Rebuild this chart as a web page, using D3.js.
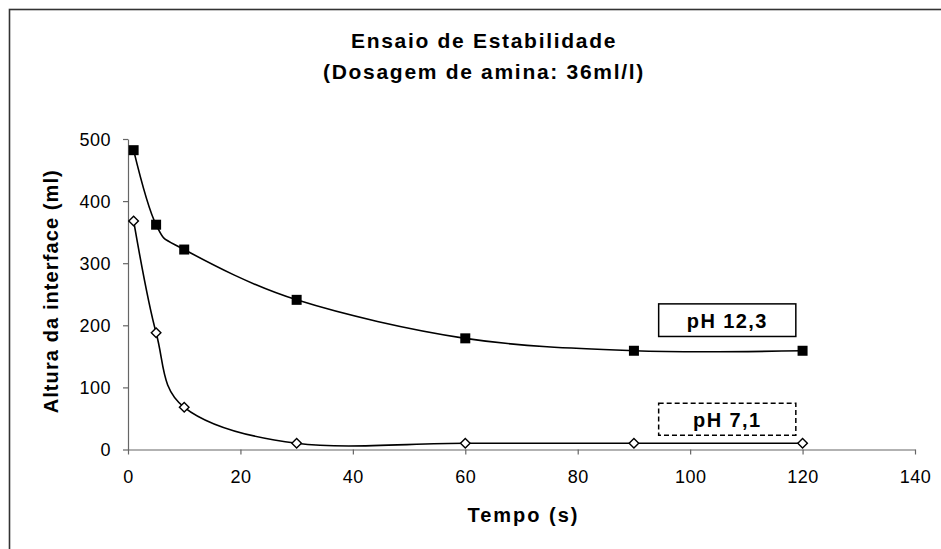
<!DOCTYPE html>
<html>
<head>
<meta charset="utf-8">
<script src="https://cdn.jsdelivr.net/npm/d3@7"></script>
<style>
  html, body { margin: 0; padding: 0; background: #fff; }
  svg { display: block; }
  text { font-family: "Liberation Sans", Arial, sans-serif; fill: #000; }
</style>
</head>
<body>
<svg id="chart" width="941" height="549"></svg>
<script>
// ---- data ----
const tempo = [1, 5, 10, 30, 60, 90, 120];
const ph123 = [482, 362, 322, 241, 179, 159, 159];
const ph71  = [368, 188, 68, 10, 10, 10, 10];
const xTicks = [0, 20, 40, 60, 80, 100, 120, 140];
const yTicks = [0, 100, 200, 300, 400, 500];
const titleLines = ["Ensaio de Estabilidade", "(Dosagem de amina: 36ml/l)"];
const xTitle = "Tempo (s)";
const yTitle = "Altura da interface (ml)";
const labels = ["pH 12,3", "pH 7,1"];

const svg = d3.select("#chart");

// outer chart-area border (extends past right and bottom edges)
svg.append("rect")
  .attr("x", 9.5).attr("y", 9.5)
  .attr("width", 950).attr("height", 560)
  .attr("fill", "#fff").attr("stroke", "#333").attr("stroke-width", 1.6);

const x = d3.scaleLinear().domain([0, 140]).range([128, 915]);
const y = d3.scaleLinear().domain([0, 500]).range([449.5, 139]);

// title
svg.append("g").selectAll("text").data(titleLines).enter().append("text")
  .attr("x", 484).attr("y", (d, i) => 48 + i * 31)
  .attr("text-anchor", "middle")
  .attr("font-size", 21).attr("font-weight", "bold")
  .attr("letter-spacing", 1.7)
  .text(d => d);

// axes
const axisColor = "#666";
const gx = svg.append("g").attr("transform", `translate(0,${y(0)})`)
  .call(d3.axisBottom(x).tickValues(xTicks).tickSize(5).tickPadding(16).tickSizeOuter(0));
const gy = svg.append("g").attr("transform", `translate(${x(0)},0)`)
  .call(d3.axisLeft(y).tickValues(yTicks).tickSize(5).tickPadding(12).tickSizeOuter(0));
[gx, gy].forEach(g => {
  g.select(".domain").attr("stroke", axisColor).attr("stroke-width", 1.2);
  g.selectAll(".tick line").attr("stroke", axisColor).attr("stroke-width", 1.2);
  g.selectAll(".tick text")
    .attr("font-family", "'Liberation Sans', Arial, sans-serif")
    .attr("font-size", 18).attr("fill", "#000").attr("letter-spacing", 0.5);
});
gx.selectAll(".tick text").attr("dy", "0.71em");
gy.selectAll(".tick text").attr("dy", "0.35em");

// axis titles
svg.append("text")
  .attr("x", (x(0) + x(140)) / 2 + 2).attr("y", 522)
  .attr("text-anchor", "middle").attr("font-size", 20).attr("font-weight", "bold")
  .attr("letter-spacing", 2)
  .text(xTitle);
svg.append("text")
  .attr("transform", `translate(58,${(y(0) + y(500)) / 2 - 3}) rotate(-90)`)
  .attr("text-anchor", "middle").attr("font-size", 20).attr("font-weight", "bold")
  .attr("letter-spacing", 1.1)
  .text(yTitle);

// series
const line = d3.line()
  .x(d => x(d[0])).y(d => y(d[1]))
  .curve(d3.curveCardinal.tension(0));

const s1 = tempo.map((t, i) => [t, ph123[i]]);
const s2 = tempo.map((t, i) => [t, ph71[i]]);

svg.append("path").datum(s1).attr("d", line)
  .attr("fill", "none").attr("stroke", "#000").attr("stroke-width", 1.6);
svg.append("path").datum(s2).attr("d", line)
  .attr("fill", "none").attr("stroke", "#000").attr("stroke-width", 1.6);

// markers
svg.append("g").selectAll("rect").data(s1).enter().append("rect")
  .attr("x", d => x(d[0]) - 5).attr("y", d => y(d[1]) - 5)
  .attr("width", 10).attr("height", 10).attr("fill", "#000");

svg.append("g").selectAll("path").data(s2).enter().append("path")
  .attr("transform", d => `translate(${x(d[0])},${y(d[1])}) rotate(45)`)
  .attr("d", d3.symbol().type(d3.symbolSquare).size(46))
  .attr("fill", "#fff").attr("stroke", "#000").attr("stroke-width", 1.4);

// label boxes
const boxes = [
  { text: labels[0], x0: 94.4, x1: 118.8, y0: 234.5, y1: 182, dash: null },
  { text: labels[1], x0: 94.4, x1: 118.8, y0: 74.5, y1: 23, dash: "5,3" }
];
boxes.forEach(b => {
  const bx = x(b.x0), bw = x(b.x1) - x(b.x0);
  const by = y(b.y0), bh = y(b.y1) - y(b.y0);
  svg.append("rect")
    .attr("x", bx).attr("y", by).attr("width", bw).attr("height", bh)
    .attr("fill", "#fff").attr("stroke", "#000").attr("stroke-width", 1.5)
    .attr("stroke-dasharray", b.dash);
  svg.append("text")
    .attr("x", bx + bw / 2).attr("y", by + bh / 2 + 8)
    .attr("text-anchor", "middle").attr("font-size", 20).attr("font-weight", "bold")
    .attr("letter-spacing", 1.4)
    .text(b.text);
});
</script>
</body>
</html>
